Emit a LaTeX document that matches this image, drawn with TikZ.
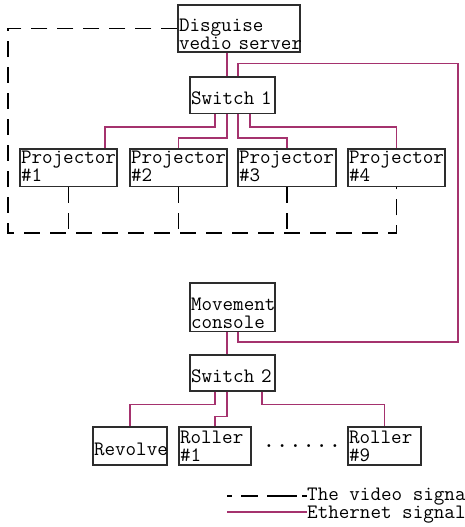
\documentclass[tikz,border=0pt]{standalone}
\usepackage{fontspec}
\usepackage{xcolor}
\definecolor{ethred}{RGB}{165,50,110}
\definecolor{boxgray}{RGB}{45,45,45}

\begin{document}
\begin{tikzpicture}[x=1pt,y=-1pt,
    unit/.style n args={3}{draw=boxgray,line width=1.3pt,inner xsep=1pt,inner ysep=0pt,
      text width=#1,text height=#2,text depth=#3,align=left,
      font=\ttfamily\fontsize{20.5}{18}\selectfont},
    eth/.style={ethred,line width=1.6pt},
    video/.style={black,line width=1.4pt,dash pattern=on 16pt off 10pt},
    legend/.style={inner sep=0pt,font=\ttfamily\fontsize{20.5}{18}\selectfont}]
    \useasboundingbox (0,0) rectangle (465,527);

    % servers and switches
    \node[unit={120pt}{27pt}{20pt}] (srv) at (239,28.5) {Disguise\\\mbox{vedio server}};
    \node[unit={83pt}{27pt}{9.5pt}] (sw1) at (232.5,95.25) {\mbox{Switch 1}};
    \node[unit={83pt}{27pt}{21.5pt}] (mc) at (232.5,307.25) {Movement\\console};
    \node[unit={83pt}{27pt}{9pt}] (sw2) at (232.5,373) {\mbox{Switch 2}};

    % projectors
    \node[unit={95pt}{14pt}{23.5pt}] (p1) at (68.5,167.75) {\mbox{Projector}\\\#1};
    \node[unit={95pt}{14pt}{23.5pt}] (p2) at (178.5,167.75) {\mbox{Projector}\\\#2};
    \node[unit={96pt}{14pt}{23.5pt}] (p3) at (287,167.75) {\mbox{Projector}\\\#3};
    \node[unit={95pt}{14pt}{23.5pt}] (p4) at (396.5,167.75) {\mbox{Projector}\\\#4};

    % stage machinery
    \node[unit={72pt}{28pt}{10pt}] (rev) at (130,446) {\mbox{Revolve}};
    \node[unit={70pt}{16pt}{22pt}] (r1) at (215,446) {Roller\\\#1};
    \node[unit={71pt}{16pt}{22pt}] (r9) at (384.5,446) {Roller\\\#9};
    \node[inner sep=0pt,font=\ttfamily\fontsize{25.7}{25.7}\selectfont] (dots) at (302,446) {......};

    % video signal
    \coordinate (vbus) at (8,233);
    \draw[video] (srv.west) -| (vbus) -| (p4.south);
    \foreach \p in {p1,p2,p3}
        \draw[video] (\p.south) -- (\p.south |- vbus);

    % ethernet
    \draw[eth] ([xshift=-5.5pt]sw1.north) -- ([xshift=-5.5pt]sw1.north |- srv.south);
    \draw[eth] ([xshift=5.5pt]sw1.north) -- ++(0,-13) -| (458,342) -| ([xshift=5.5pt]mc.south);
    \draw[eth] ([xshift=-17.5pt]sw1.south) -- ++(0,13) -| ([xshift=36.5pt]p1.north);
    \draw[eth] ([xshift=-5.5pt]sw1.south) -- ++(0,24) -| (p2.north);
    \draw[eth] ([xshift=5.5pt]sw1.south) -- ++(0,24) -| (p3.north);
    \draw[eth] ([xshift=17.5pt]sw1.south) -- ++(0,13) -| (p4.north);
    \draw[eth] ([xshift=-5.5pt]mc.south) -- ([xshift=-5.5pt]sw2.north);
    \draw[eth] ([xshift=-17.5pt]sw2.south) -- ++(0,13) -| (rev.north);
    \draw[eth] ([xshift=-5.5pt]sw2.south) -- ++(0,25) -| (r1.north);
    \draw[eth] ([xshift=29.5pt]sw2.south) -- ++(0,13) -| (r9.north);

    % legend
    \coordinate (kv) at (227,496);
    \coordinate (ke) at (227,512);
    \node[legend,anchor=base west] (kvt) at (307,500) {The video signal};
    \node[legend,anchor=base west] (ket) at (307,518.5) {Ethernet signal};
    \draw[black,line width=1.4pt,dash pattern=on 5pt off 9pt on 17pt off 9pt on 30pt] (kv) -- (kv -| kvt.west);
    \draw[eth] (ke) -- (ke -| ket.west);
\end{tikzpicture}
\end{document}
